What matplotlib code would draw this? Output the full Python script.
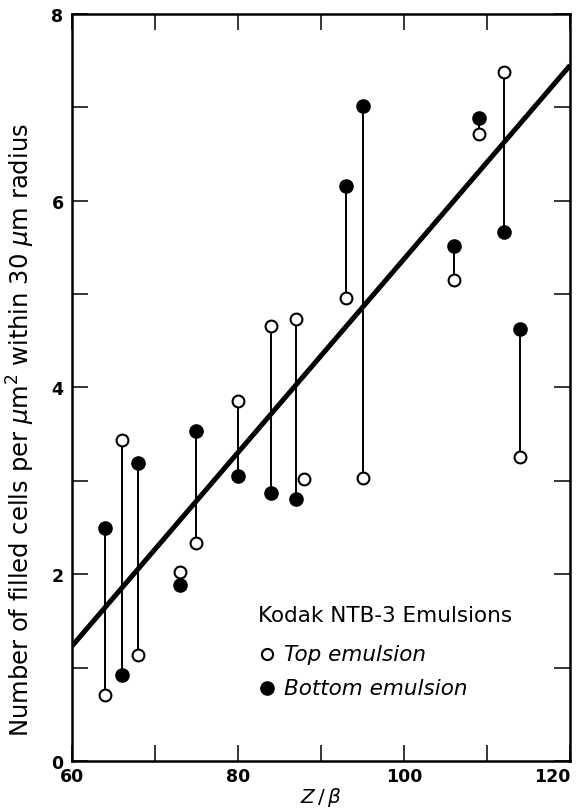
import numpy as np
import matplotlib.pyplot as plt

# Z/beta for each exposure, with the cell density in the top and bottom emulsion
z_beta = [64, 66, 68, 73, 75, 80, 84, 87, 88, 93, 95, 106, 109, 112, 114]
top_emulsion = [0.71, 3.44, 1.14, 2.02, 2.33, 3.86, 4.66, 4.73, 3.02, 4.96, 3.03, 5.15, 6.71, 7.38, 3.26]
bottom_emulsion = [2.50, 0.92, 3.19, 1.88, 3.53, 3.05, 2.87, 2.81, np.nan, 6.16, 7.01, 5.51, 6.89, 5.67, 4.63]

# straight-line fit through all points
fit_x = [60, 120]
fit_y = [1.23, 7.45]

x_ticks = [60, 70, 80, 90, 100, 110, 120]
x_labels = ["60", "", "80", "", "100", "", "120"]
y_ticks = [0, 1, 2, 3, 4, 5, 6, 7, 8]
y_labels = ["0", "", "2", "", "4", "", "6", "", "8"]

plt.rcParams["font.family"] = ["DejaVu Sans"]

fig = plt.figure(figsize=(5.8, 8.12), dpi=100)
ax = fig.add_axes([0.124, 0.0616, 0.859, 0.92])

z = np.array(z_beta, dtype=float)
top = np.array(top_emulsion, dtype=float)
bot = np.array(bottom_emulsion, dtype=float)

# stems joining the two emulsions of each plate
paired = ~np.isnan(bot)
ax.vlines(z[paired], top[paired], bot[paired], color="black", lw=1.4, zorder=2)

ax.plot(fit_x, fit_y, color="black", lw=3.6, solid_capstyle="butt", zorder=3)

ax.plot(z, top, "o", ms=8.5, mfc="white", mec="black", mew=1.5, zorder=4)
ax.plot(z[paired], bot[paired], "o", ms=9.5, mfc="black", mec="black", zorder=4)

ax.set_xlim(60, 120)
ax.set_ylim(0, 8)
ax.set_xticks(x_ticks)
ax.set_xticklabels(x_labels)
ax.set_yticks(y_ticks)
ax.set_yticklabels(y_labels)
ax.tick_params(direction="in", length=11.5, width=1.1, top=True, right=True,
               labelsize=12.5)
ax.tick_params(axis="x", pad=4)
ax.tick_params(axis="y", pad=6)
for lab in ax.get_xticklabels() + ax.get_yticklabels():
    lab.set_fontweight("bold")
# last x label sits inside the right edge
ax.get_xticklabels()[-1].set_horizontalalignment("right")
for sp in ax.spines.values():
    sp.set_linewidth(1.8)

ax.set_xlabel(r"$Z\,/\,\beta$", fontsize=14.5, labelpad=0)
fig.text(0.036, 0.47,
         r"Number of filled cells per $\mu$m$^2$ within 30 $\mu$m radius",
         rotation=90, ha="center", va="center", fontsize=17.5)

# legend block
ax.text(82.4, 1.56, "Kodak NTB-3 Emulsions", fontsize=15.5, va="center")
ax.plot([83.5], [1.15], "o", ms=8, mfc="white", mec="black", mew=1.5)
ax.plot([83.5], [0.78], "o", ms=9.5, mfc="black", mec="black")
ax.text(85.6, 1.15, "Top emulsion", fontsize=15.5, style="italic", va="center")
ax.text(85.6, 0.78, "Bottom emulsion", fontsize=15.5, style="italic", va="center")

fig.savefig("out.png", dpi=100)
